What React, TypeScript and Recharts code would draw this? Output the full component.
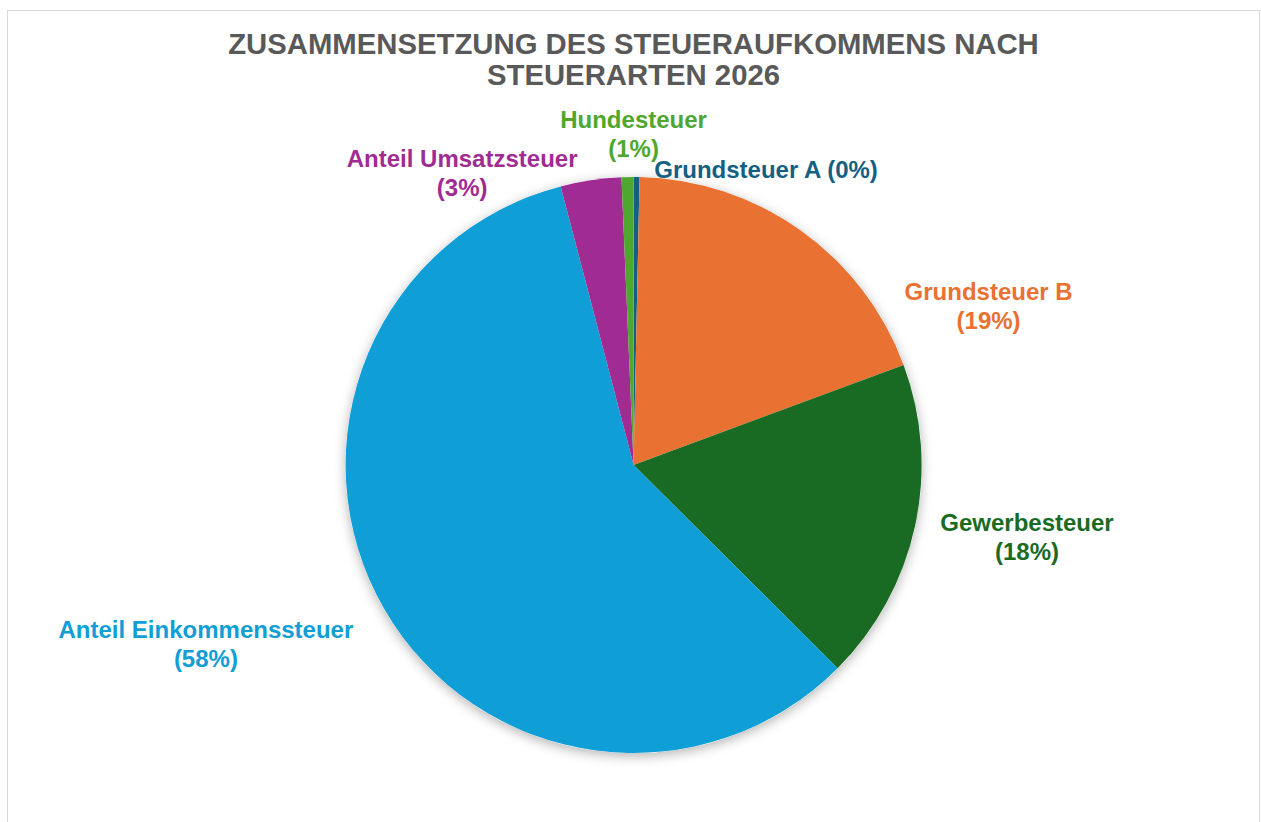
import React from 'react';
import { PieChart, Pie, Cell } from 'recharts';

// Steueraufkommen 2026, Anteile in Prozent
const categories = [
  'Grundsteuer A',
  'Grundsteuer B',
  'Gewerbesteuer',
  'Anteil Einkommenssteuer',
  'Anteil Umsatzsteuer',
  'Hundesteuer',
];
const shares = [0.33, 19.0, 18.1, 58.4, 3.4, 0.67];
const colors = ['#156082', '#E97132', '#196B24', '#0F9ED5', '#A02B93', '#4EA72E'];
const titleLines = ['ZUSAMMENSETZUNG DES STEUERAUFKOMMENS NACH', 'STEUERARTEN 2026'];

// label placement: nudge from the default outside anchor, one-line or two-line
const labelLayout = [
  { dx: 129, dy: 37, oneLine: true },
  { dx: 162, dy: 112, oneLine: false },
  { dx: 68, dy: 1, oneLine: false },
  { dx: -139, dy: 13, oneLine: false },
  { dx: -122, dy: 37, oneLine: false },
  { dx: 7, dy: 2, oneLine: false },
];

const data = categories.map((name, i) => ({ name, value: shares[i] }));
const backdrop = [{ name: 'bg', value: 1 }];

const FONT = '"Liberation Sans", Arial, sans-serif';
const LABEL_SIZE = 24;

const renderLabel = (props: any) => {
  const { cx, cy, midAngle, outerRadius, percent, index, name } = props;
  const rad = Math.PI / 180;
  const r = outerRadius + 45;
  const layout = labelLayout[index];
  const x = cx + r * Math.cos(-midAngle * rad) + layout.dx;
  const y = cy + r * Math.sin(-midAngle * rad) + layout.dy;
  const pct = `(${Math.round(percent * 100)}%)`;
  const capMid = LABEL_SIZE * 0.358;
  const common = {
    textAnchor: 'middle' as const,
    fill: colors[index],
    fontSize: LABEL_SIZE,
    fontWeight: 700,
    fontFamily: FONT,
  };
  if (layout.oneLine) {
    return (
      <text key={`l-${index}`} x={x} y={y + capMid} {...common}>
        {`${name} ${pct}`}
      </text>
    );
  }
  return (
    <text key={`l-${index}`} x={x} y={y} {...common}>
      <tspan x={x} y={y - 14.5 + capMid}>{name}</tspan>
      <tspan x={x} y={y + 14.5 + capMid}>{pct}</tspan>
    </text>
  );
};

export default function App() {
  return (
    <div
      style={{
        position: 'fixed',
        left: 7,
        top: 10,
        width: 1251,
        height: 820,
        border: '1px solid #d9d9d9',
        background: '#fff',
      }}
    >
      <svg width={0} height={0} style={{ position: 'absolute' }}>
        <defs>
          <filter id="pieShadow" x="-20%" y="-20%" width="140%" height="140%">
            <feDropShadow dx="0" dy="3" stdDeviation="6" floodColor="#000" floodOpacity="0.3" />
          </filter>
        </defs>
      </svg>
      <div
        style={{
          position: 'absolute',
          top: 16.5,
          left: 0,
          width: '100%',
          textAlign: 'center',
          fontFamily: FONT,
          fontWeight: 700,
          fontSize: 29.3,
          lineHeight: '31px',
          color: '#595959',
        }}
      >
        {titleLines.map((t) => (
          <div key={t}>{t}</div>
        ))}
      </div>
      <PieChart width={1251} height={813} margin={{ top: 0, right: 0, bottom: 0, left: 0 }}>
        <Pie
          data={backdrop}
          dataKey="value"
          cx={625.6}
          cy={454}
          outerRadius={288}
          startAngle={90}
          endAngle={-270}
          stroke="none"
          isAnimationActive={false}
        >
          <Cell fill="#fff" filter="url(#pieShadow)" />
        </Pie>
        <Pie
          data={data}
          dataKey="value"
          nameKey="name"
          cx={625.6}
          cy={454}
          outerRadius={288}
          startAngle={90}
          endAngle={-270}
          stroke="none"
          label={renderLabel}
          labelLine={false}
          isAnimationActive={false}
        >
          {data.map((d, i) => (
            <Cell key={d.name} fill={colors[i]} />
          ))}
        </Pie>
      </PieChart>
    </div>
  );
}
